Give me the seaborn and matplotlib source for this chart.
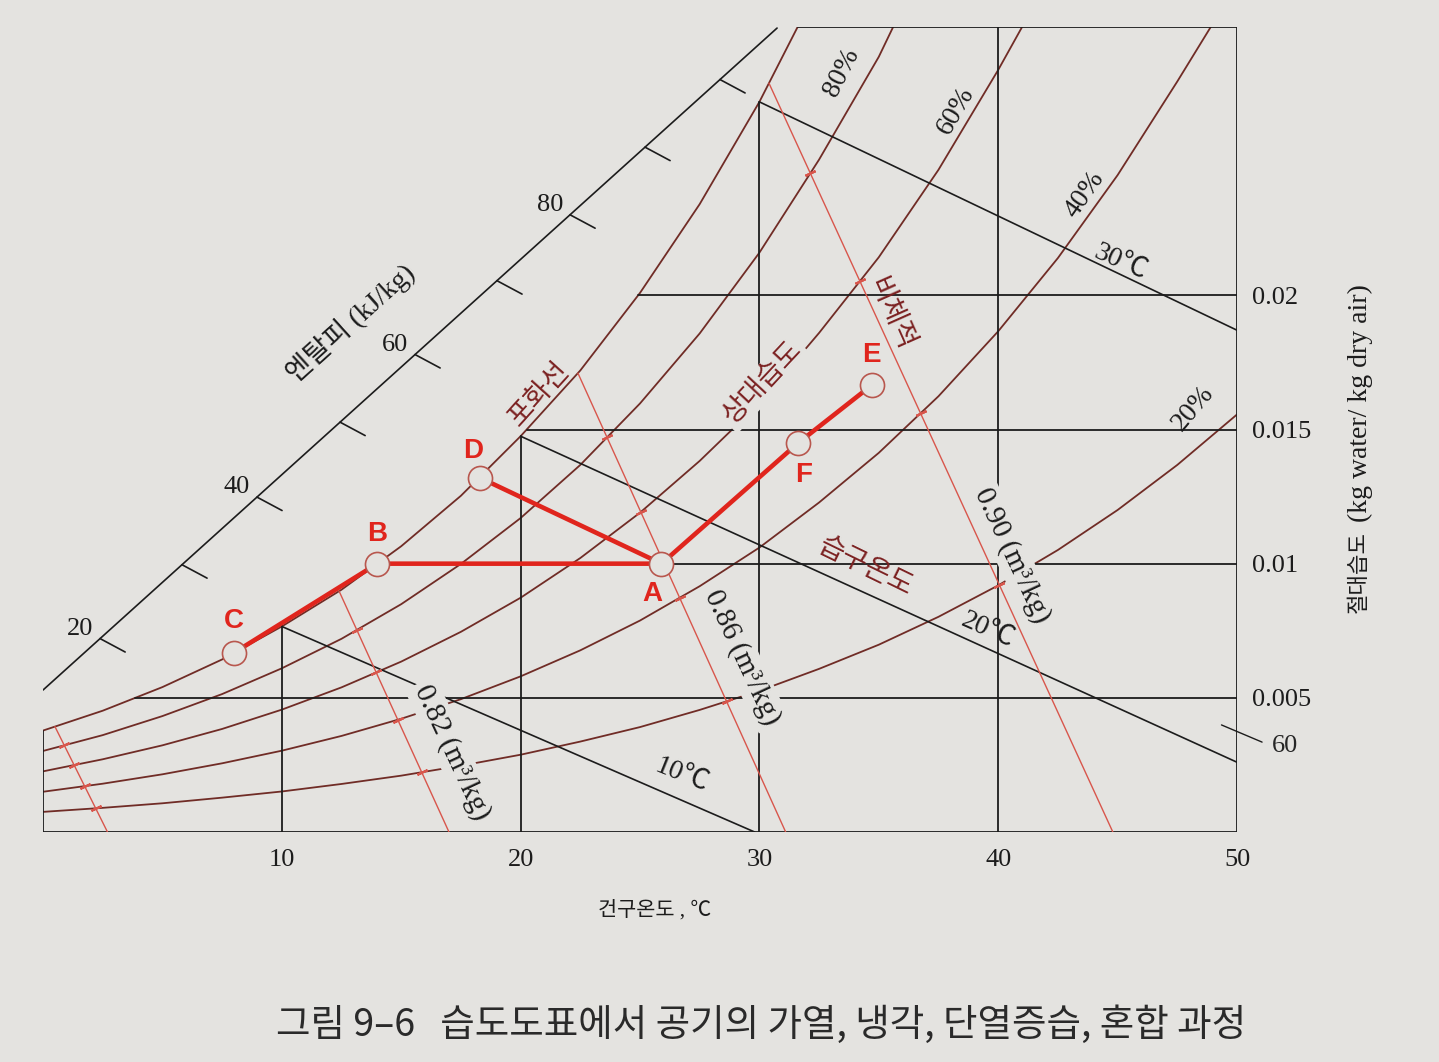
"""
습도도표 (psychrometric chart) - 공기의 가열, 냉각, 단열증습, 혼합 과정
"""

import numpy as np
import matplotlib
matplotlib.use('Agg')
import matplotlib.pyplot as plt
import seaborn as sns

PAPER = '#e4e3e0'
INK = '#1c1c1c'
CURVE = '#702c26'
VOL_RED = '#d8564c'
PROC_RED = '#e0251d'
LABEL_RED = '#7c2222'

# 건구온도 (℃) - 곡선을 읽은 지점
temp = [0, 2.5, 5, 7.5, 10, 12.5, 15, 17.5, 20, 22.5, 25, 27.5,
        30, 32.5, 35, 37.5, 40, 42.5, 45, 47.5, 50]

# 상대습도 곡선, 절대습도 (kg/kg). 위 테두리에서 끝나는 곡선은 마지막 점이 테두리
rh_100_T = temp[:13] + [31.6]
rh_100_W = [0.00378, 0.00452, 0.00540, 0.00643, 0.00766, 0.00903, 0.01065,
            0.01253, 0.01475, 0.01720, 0.02009, 0.02340, 0.02721, 0.0300]
rh_80_T = temp[:15] + [35.6]
rh_80_W = [0.00302, 0.00361, 0.00432, 0.00514, 0.00610, 0.00720, 0.00849,
           0.00999, 0.01170, 0.01368, 0.01597, 0.01858, 0.02159, 0.02506,
           0.02889, 0.0300]
rh_60_T = temp[:17] + [41.0]
rh_60_W = [0.00226, 0.00271, 0.00323, 0.00384, 0.00456, 0.00539, 0.00635,
           0.00746, 0.00873, 0.01021, 0.01190, 0.01383, 0.01598, 0.01860,
           0.02142, 0.02468, 0.02840, 0.0300]
rh_40_T = temp[:20] + [48.9]
rh_40_W = [0.00150, 0.00180, 0.00215, 0.00256, 0.00303, 0.00358, 0.00422,
           0.00495, 0.00580, 0.00677, 0.00788, 0.00916, 0.01060, 0.01228,
           0.01413, 0.01624, 0.01866, 0.02139, 0.02448, 0.02797, 0.0300]
rh_20_T = temp
rh_20_W = [0.00075, 0.00090, 0.00107, 0.00128, 0.00151, 0.00179, 0.00210,
           0.00247, 0.00288, 0.00337, 0.00391, 0.00455, 0.00526, 0.00608,
           0.00698, 0.00802, 0.00919, 0.01051, 0.01200, 0.01368, 0.01556]

# 격자
x_ticks = [10, 20, 30, 40, 50]
y_ticks = [0.005, 0.01, 0.015, 0.02]
y_tick_labels = ['0.005', '0.01', '0.015', '0.02']

# 습구온도선: 포화선에서 시작, 끝점
wb_T = [10, 20, 30]
wb_end_T = [29.8, 50, 50]
wb_end_W = [0.0, 0.0026, 0.0187]

# 비체적선 (m3/kg): 아래 끝 온도, 포화선 위 끝 온도
vol = [0.78, 0.82, 0.86, 0.90]
vol_bot_T = [2.7, 17.0, 31.1, 44.8]
vol_top_T = [0.5, 12.4, 22.4, 30.4]

# 엔탈피 눈금 (kJ/kg)
enth_line_T = [0.0, 30.74]
enth_line_W = [0.00529, 0.02996]
enth_ticks = [20, 30, 40, 50, 60, 70, 80, 90, 100]
enth_tick_T = [2.39, 5.82, 8.96, 12.44, 15.58, 19.01, 22.07, 25.21, 28.35]
enth_labels = [20, 40, 60, 80]
enth_right = 60
enth_right_W = 0.00367

# 상태점
pt_names = ['A', 'B', 'C', 'D', 'E', 'F']
pt_T = [25.9, 14.0, 8.0, 18.3, 34.7, 31.6]
pt_W = [0.0100, 0.0100, 0.00668, 0.0132, 0.01665, 0.01448]
paths = [['C', 'B', 'A'], ['D', 'A'], ['A', 'F', 'E']]


def sat_W(T):
    return np.interp(T, rh_100_T, rh_100_W)


def sat_T(W):
    return np.interp(W, rh_100_W, rh_100_T)


sns.set_theme(style='white')
plt.rcParams['font.family'] = ['Liberation Serif', 'Noto Sans CJK KR']

fig = plt.figure(figsize=(14.39, 10.62), dpi=100, facecolor=PAPER)
ax = fig.add_axes([43 / 1439, 230 / 1062, 1194 / 1439, 805 / 1062])
ax.set_xlim(0, 50)
ax.set_ylim(0, 0.030)
ax.patch.set_alpha(0)
for s in ax.spines.values():
    s.set_visible(False)

# 상대습도 곡선
rh_curves = [(rh_100_T, rh_100_W), (rh_80_T, rh_80_W), (rh_60_T, rh_60_W),
             (rh_40_T, rh_40_W), (rh_20_T, rh_20_W)]
for T, W in rh_curves:
    sns.lineplot(x=T, y=W, ax=ax, color=CURVE, lw=1.3, sort=False,
                 estimator=None, zorder=2)

# 테두리
lk = dict(color=INK, lw=1.3, zorder=2)
ax.plot([0, 50], [0, 0], **lk)
ax.plot([50, 50], [0, 0.030], **lk)
ax.plot([rh_100_T[-1], 50], [0.030, 0.030], **lk)
ax.plot([0, 0], [0, sat_W(0)], **lk)

# 격자선
for T in x_ticks[:-1]:
    ax.plot([T, T], [0, sat_W(T)], **lk)
for W in y_ticks:
    ax.plot([sat_T(W), 50], [W, W], **lk)

# 습구온도선
for Twb, Te, We in zip(wb_T, wb_end_T, wb_end_W):
    ax.plot([Twb, Te], [sat_W(Twb), We], color=INK, lw=1.2, zorder=2)

# 비체적선 + 상대습도 곡선과 만나는 점 표시
tt = np.linspace(0, 1, 3001)
for Tb, Tt in zip(vol_bot_T, vol_top_T):
    Wt = sat_W(Tt)
    ax.plot([Tb, Tt], [0, Wt], color=VOL_RED, lw=1.0, zorder=2)
    Tl = Tb + (Tt - Tb) * tt
    Wl = Wt * tt
    for T, W in rh_curves[1:]:
        d = Wl - np.interp(Tl, T, W)
        idx = np.where(np.diff(np.sign(d)) != 0)[0]
        ax.plot(Tl[idx], Wl[idx], ls='none', marker=(2, 2, -65), ms=8,
                mec=VOL_RED, mew=1.6, zorder=2)

# 엔탈피 눈금선
ax.plot(enth_line_T, enth_line_W, color=INK, lw=1.2)
slope = (enth_line_W[1] - enth_line_W[0]) / (enth_line_T[1] - enth_line_T[0])
for h, Tt in zip(enth_ticks, enth_tick_T):
    Wt = enth_line_W[0] + slope * (Tt - enth_line_T[0])
    ax.plot([Tt, Tt + 1.05], [Wt, Wt - 0.0005], color=INK, lw=1.2)
    if h in enth_labels:
        ax.annotate(str(h), (Tt, Wt), xytext=(-20, 10), textcoords='offset pixels',
                    ha='center', va='center', fontsize=19, color=INK)
ax.plot([49.35, 51.05], [enth_right_W + 0.00032, enth_right_W - 0.00032],
        color=INK, lw=1.0, clip_on=False)
ax.annotate(str(enth_right), (50, enth_right_W), xytext=(48, -12),
            textcoords='offset pixels', ha='center', va='center', fontsize=19)

# 과정선과 상태점
for p in paths:
    xs = [pt_T[pt_names.index(n)] for n in p]
    ys = [pt_W[pt_names.index(n)] for n in p]
    sns.lineplot(x=xs, y=ys, ax=ax, color=PROC_RED, lw=3.3, sort=False,
                 estimator=None, zorder=5)
sns.scatterplot(x=pt_T, y=pt_W, ax=ax, s=300, color=PAPER, edgecolor='#b8574e',
                linewidth=1.2, zorder=6)
pt_offsets = {'A': (-9, -30), 'B': (0, 30), 'C': (0, 32), 'D': (-7, 27),
              'E': (0, 30), 'F': (6, -32)}
for n, T, W in zip(pt_names, pt_T, pt_W):
    ax.annotate(n, (T, W), xytext=pt_offsets[n], textcoords='offset pixels',
                ha='center', va='center', color=PROC_RED, fontsize=20,
                fontweight='bold', family='Liberation Sans', zorder=7)

# 곡선 위 글자
hide = dict(boxstyle='square,pad=0.12', fc=PAPER, ec='none')
ax.text(20.81, 0.01629, '포화선', rotation=48, color=LABEL_RED, fontsize=20,
        ha='center', va='center')
ax.text(30.15, 0.01673, '상대습도', rotation=47, color=LABEL_RED, fontsize=20,
        ha='center', va='center', bbox=hide)
ax.text(35.47, 0.01927, '비체적', rotation=-66, color=LABEL_RED, fontsize=20,
        ha='center', va='center')
ax.text(34.42, 0.00984, '습구온도', rotation=-26, color=LABEL_RED, fontsize=20,
        ha='center', va='center')
vol_label_pos = [(17.13, 0.00298), (29.27, 0.00652), (40.58, 0.01032)]
for v, (T, W) in zip(vol[1:], vol_label_pos):
    ax.text(T, W, f'{v:.2f} (m³/kg)', rotation=-65, fontsize=21, color=INK,
            ha='center', va='center', bbox=hide)
for t, (T, W, r) in zip(wb_T, [(26.76, 0.00212, -22), (39.57, 0.00753, -24),
                                (45.14, 0.02124, -24)]):
    ax.text(T, W, f'{t}℃', rotation=r, fontsize=20, color=INK,
            ha='center', va='center')
for rh, (T, W, r) in zip([80, 60, 40, 20], [(33.46, 0.02832, 63), (38.23, 0.02687, 60),
                                             (43.63, 0.02374, 55), (48.16, 0.0158, 50)]):
    ax.text(T, W, f'{rh}%', rotation=r, fontsize=20, color=INK,
            ha='center', va='center')
ax.text(12.86, 0.01897, '엔탈피 (kJ/kg)', rotation=42, fontsize=20, color=INK,
        ha='center', va='center')

# 축 눈금
ax.set_xticks(x_ticks)
ax.set_xticklabels([str(t) for t in x_ticks])
ax.yaxis.tick_right()
ax.set_yticks(y_ticks)
ax.set_yticklabels(y_tick_labels)
ax.tick_params(axis='x', length=0, pad=12, labelsize=19, labelcolor=INK)
ax.tick_params(axis='y', length=0, pad=11, labelsize=19, labelcolor=INK)
ax.grid(False)

fig.text(0.4552, 0.1431, '건구온도 , ℃', ha='center', va='center', fontsize=15,
         color=INK)
fig.text(0.9451, 0.4228, '절대습도', rotation=90, ha='center', va='bottom',
         fontsize=16, color=INK)
fig.text(0.9451, 0.5085, '(kg water/ kg dry air)', rotation=90, ha='center',
         va='bottom', fontsize=20, color=INK)
fig.text(0.5288, 0.0348, '그림 9–6   습도도표에서 공기의 가열, 냉각, 단열증습, 혼합 과정',
         ha='center', va='center', fontsize=27, color='#2a2a2a',
         family=['Noto Sans CJK KR', 'DejaVu Sans'])

fig.savefig('out.png', dpi=100, facecolor=PAPER)
